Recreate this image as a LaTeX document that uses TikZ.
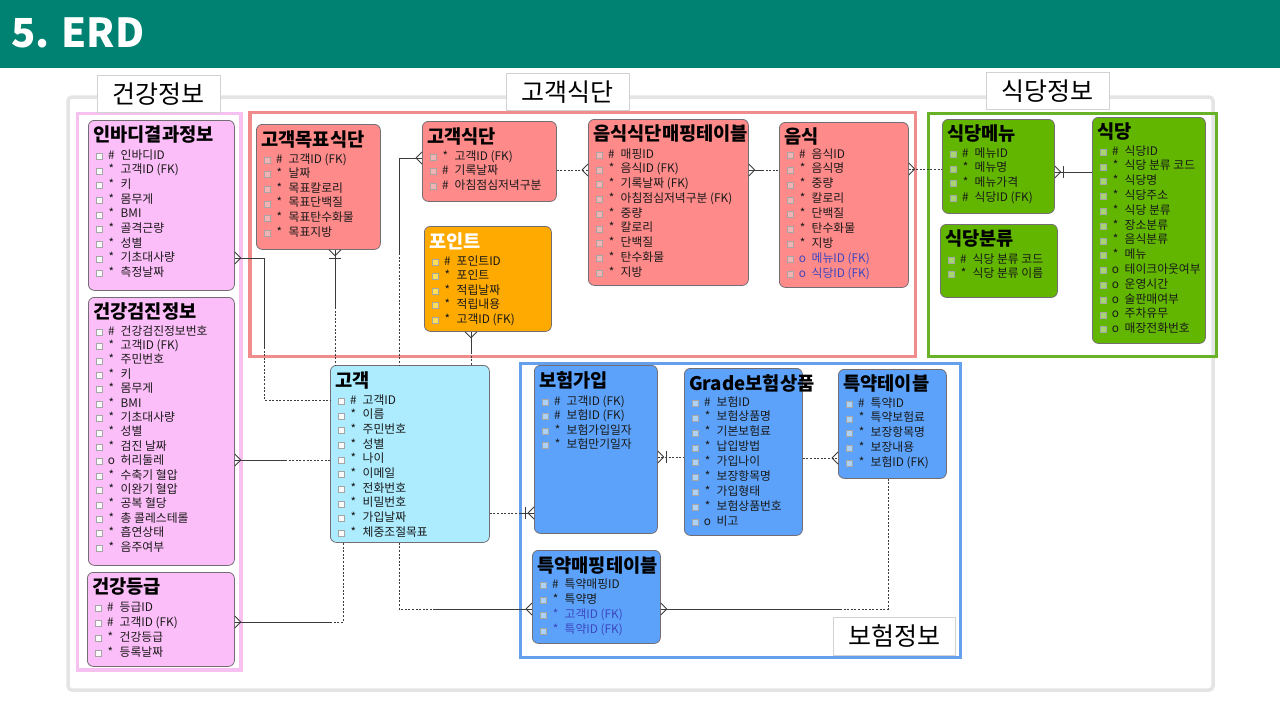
\documentclass[tikz,border=0pt]{standalone}
\usepackage{fontspec}
\setmainfont{Noto Sans CJK KR}
\usetikzlibrary{calc}

\definecolor{hdrteal}{RGB}{0,130,115}
\definecolor{pinkF}{RGB}{252,190,248}
\definecolor{salF}{RGB}{255,138,138}
\definecolor{oraF}{RGB}{255,170,0}
\definecolor{grnF}{RGB}{98,182,0}
\definecolor{cyaF}{RGB}{172,236,254}
\definecolor{bluF}{RGB}{92,162,250}
\definecolor{pinkG}{RGB}{246,192,240}
\definecolor{salG}{RGB}{240,140,140}
\definecolor{grnG}{RGB}{104,178,40}
\definecolor{bluG}{RGB}{100,160,235}
\definecolor{frameG}{RGB}{228,228,228}
\definecolor{entB}{RGB}{115,110,115}
\definecolor{fkblue}{RGB}{60,70,190}
\definecolor{lineC}{RGB}{60,60,60}
\definecolor{sqW}{RGB}{250,250,250}
\definecolor{sqS}{RGB}{245,178,178}
\definecolor{sqO}{RGB}{255,222,90}
\definecolor{sqG}{RGB}{165,215,110}
\definecolor{sqB}{RGB}{172,210,250}

\tikzset{
  ent/.style={draw=entB, line width=0.8pt, rounded corners=6pt, anchor=north west, inner sep=0pt},
  ttl/.style={anchor=west, inner sep=0pt, font=\fontsize{18.7}{21}\selectfont\bfseries},
  row/.style={anchor=west, inner sep=0pt, text height=8.5pt, text depth=2.5pt, font=\fontsize{11.8}{13}\selectfont, text=black!90},
  sym/.style={anchor=center, inner sep=0pt, text height=8.5pt, text depth=2.5pt, font=\fontsize{11.8}{13}\selectfont, text=black!90},
  sqbox/.style={draw=gray!70, line width=0.4pt, minimum size=6pt, inner sep=0pt},
  grp/.style={line width=3.5pt},
  tag/.style={draw=gray!35, fill=white, line width=0.8pt, font=\fontsize{25}{27}\selectfont, inner sep=0pt, anchor=north west},
  rel/.style={draw=lineC, line width=0.8pt},
  opt/.style={rel, dash pattern=on 2pt off 1.6pt},
}

% row spacing and offset of the first row below the box top
\def\rsp{14.7}
\def\rfirst{36}

% entity box: name, x, y, width, height, fill, square fill, title, rows (symbol/text)
\newcommand\entity[9]{%
  \node[ent, fill=#6, minimum width=#4pt, minimum height=#5pt] (#1) at (#2,#3) {};
  \node[ttl] (#1-t) at (#2+5,#3+15) {#8};
  \foreach \rs/\rt [count=\i from 0] in {#9}{%
    \pgfmathsetmacro\yy{#3+\rfirst+\i*\rsp}
    \node[sqbox, fill=#7] (#1-q\i) at (#2+11,\yy) {};
    \node[sym] (#1-s\i) at (#2+23.5,\yy) {\rs};
    \node[row] (#1-r\i) at (#2+32.5,\yy) {\rt};
  }%
}

% crow's foot (many) at an edge point, direction pointing away from the entity
\newcommand\crowfoot[3]{%
  \draw[rel] ($(#1)+({6*(#2)},{6*(#3)})$) -- ($(#1)+({-6*(#3)},{6*(#2)})$)
             ($(#1)+({6*(#2)},{6*(#3)})$) -- ($(#1)+({6*(#3)},{-6*(#2)})$);
}
% bar (one) next to a crow's foot
\newcommand\onebar[3]{%
  \draw[rel] ($(#1)+({9*(#2)-6*(#3)},{9*(#3)+6*(#2)})$) -- ($(#1)+({9*(#2)+6*(#3)},{9*(#3)-6*(#2)})$);
}

\begin{document}
\begin{tikzpicture}[x=1pt,y=-1pt]
\useasboundingbox (0,0) rectangle (1280,720);
\fill[white] (0,0) rectangle (1280,720);

% header bar
\fill[hdrteal] (0,0) rectangle (1280,68);
\node[anchor=base west, inner sep=0pt, text=white, font=\fontsize{40}{40}\selectfont\bfseries] (title) at (11,47) {5. ERD};

% outer frame
\draw[frameG, line width=3.5pt, rounded corners=4pt] (68,97) rectangle (1213,690);

% subject area frames
\draw[grp, pinkG] (77.5,113.5) rectangle (241,670);
\draw[grp, salG] (250,112.5) rectangle (915.5,356.5);
\draw[grp, grnG] (928.5,113.5) rectangle (1216.5,356.5);
\draw[grp, bluG] (520.5,363.5) rectangle (960.5,657.5);

% subject area labels
\node[tag, minimum width=123pt, minimum height=37pt] (lblHealth) at (97,75) {건강정보};
\node[tag, minimum width=123pt, minimum height=37pt] (lblDiet) at (506,73) {고객식단};
\node[tag, minimum width=123pt, minimum height=37pt] (lblRest) at (986,72) {식당정보};
\node[tag, minimum width=122pt, minimum height=38pt] (lblIns) at (833,617) {보험정보};

% ---------- health ----------
\entity{inbody}{88}{120}{146}{170}{pinkF}{sqW}{인바디결과정보}{%
  \#/인바디ID, */{고객ID (FK)}, */키, */몸무게, */BMI, */골격근량, */성별, */기초대사량, */측정날짜}

\def\rsp{14.4}\def\rfirst{35}
\entity{checkup}{88}{297}{146}{268}{pinkF}{sqW}{건강검진정보}{%
  \#/건강검진정보번호, */{고객ID (FK)}, */주민번호, */키, */몸무게, */BMI, */기초대사량, */성별,
  */{검진 날짜}, o/허리둘레, */{수축기 혈압}, */{이완기 혈압}, */{공복 혈당}, */{총 콜레스테롤}, */흡연상태, */음주여부}

\def\rsp{15}\def\rfirst{36}
\entity{grade}{87}{572}{147}{94}{pinkF}{sqW}{건강등급}{%
  \#/등급ID, \#/{고객ID (FK)}, */건강등급, */등록날짜}

% ---------- diet ----------
\def\rsp{14.6}\def\rfirst{36}
\entity{goal}{256}{124}{124}{125}{salF}{sqS}{고객목표식단}{%
  \#/{고객ID (FK)}, */날짜, */목표칼로리, */목표단백질, */목표탄수화물, */목표지방}

\def\rsp{14.5}\def\rfirst{36}
\entity{diet}{422}{121}{134}{80}{salF}{sqS}{고객식단}{%
  */{고객ID (FK)}, \#/기록날짜, \#/아침점심저녁구분}

\entity{point}{424}{226}{127}{105}{oraF}{sqO}{\textcolor{white}{포인트}}{%
  \#/포인트ID, */포인트, */적립날짜, */적립내용, */{고객ID (FK)}}

\def\rsp{14.75}\def\rfirst{36}
\entity{mapping}{588}{119}{160}{166}{salF}{sqS}{음식식단매핑테이블}{%
  \#/매핑ID, */{음식ID (FK)}, */{기록날짜 (FK)}, */{아침점심저녁구분 (FK)}, */중량, */칼로리, */단백질, */탄수화물, */지방}

\def\rsp{14.9}\def\rfirst{33}
\entity{food}{779}{122}{129}{165}{salF}{sqS}{음식}{%
  \#/음식ID, */음식명, */중량, */칼로리, */단백질, */탄수화물, */지방,
  {\color{fkblue}o}/{\color{fkblue}메뉴ID (FK)}, {\color{fkblue}o}/{\color{fkblue}식당ID (FK)}}

% ---------- restaurant ----------
\def\rsp{14.7}\def\rfirst{35}
\entity{menu}{942}{119}{112}{94}{grnF}{sqG}{식당메뉴}{%
  \#/메뉴ID, */메뉴명, */메뉴가격, \#/{식당ID (FK)}}

\def\rsp{14}\def\rfirst{36}
\entity{category}{940}{224}{117}{73}{grnF}{sqG}{식당분류}{%
  \#/{식당 분류 코드}, */{식당 분류 이름}}

\def\rsp{14.8}\def\rfirst{35}
\entity{rest}{1092}{117}{113}{226}{grnF}{sqG}{식당}{%
  \#/식당ID, */{식당 분류 코드}, */식당명, */식당주소, */{식당 분류}, */장소분류, */음식분류, */메뉴,
  o/테이크아웃여부, o/운영시간, o/술판매여부, o/주차유무, o/매장전화번호}

% ---------- customer ----------
\def\rsp{14.7}\def\rfirst{36}
\entity{cust}{330}{365}{159}{177}{cyaF}{sqW}{고객}{%
  \#/고객ID, */이름, */주민번호, */성별, */나이, */이메일, */전화번호, */비밀번호, */가입날짜, */체중조절목표}

% ---------- insurance ----------
\def\rsp{14.5}\def\rfirst{37}
\entity{join}{534}{365}{123}{168}{bluF}{sqB}{보험가입}{%
  \#/{고객ID (FK)}, \#/{보험ID (FK)}, */보험가입일자, */보험만기일자}

\def\rsp{14.9}\def\rfirst{35}
\entity{product}{684}{368}{118}{167}{bluF}{sqB}{Grade보험상품}{%
  \#/보험ID, */보험상품명, */기본보험료, */납입방법, */가입나이, */보장항목명, */가입형태, */보험상품번호, o/비고}

\def\rsp{14.75}\def\rfirst{35}
\entity{rider}{838}{369}{108}{109}{bluF}{sqB}{특약테이블}{%
  \#/특약ID, */특약보험료, */보장항목명, */보장내용, */{보험ID (FK)}}

\def\rsp{15.3}\def\rfirst{35}
\entity{ridermap}{532}{550}{128}{93}{bluF}{sqB}{특약매핑테이블}{%
  \#/특약매핑ID, */특약명, {\color{fkblue}*}/{\color{fkblue}고객ID (FK)}, {\color{fkblue}*}/{\color{fkblue}특약ID (FK)}}

% ---------- relationships ----------
% inbody - cust
\coordinate (k1a) at (264,258);
\coordinate (k1b) at (264,347);
\coordinate (k1c) at (264,400);
\coordinate (e1) at (inbody.east |- k1a);
\draw[rel] (e1) -- (k1a) -- (k1b);
\draw[opt] (k1b) -- (k1c) -- (cust.west |- k1c);
\crowfoot{e1}{1}{0}

% goal - cust
\coordinate (k2) at (335,307);
\coordinate (e2) at (goal.south -| k2);
\draw[rel] (e2) -- (k2);
\draw[opt] (k2) -- (cust.north -| k2);
\crowfoot{e2}{0}{1}\onebar{e2}{0}{1}

% diet - cust
\coordinate (k3a) at (399,158);
\coordinate (k3b) at (399,253);
\coordinate (e3) at (diet.west |- k3a);
\draw[rel] (e3) -- (k3a) -- (k3b);
\draw[opt] (k3b) -- (cust.north -| k3b);
\crowfoot{e3}{-1}{0}

% diet - mapping
\coordinate (e4a) at (diet.east |- 0,170);
\coordinate (e4b) at (mapping.west |- 0,170);
\draw[opt] (e4a) -- (e4b);
\crowfoot{e4b}{-1}{0}

% mapping - food
\coordinate (e5) at (mapping.east |- 0,170);
\coordinate (k5) at (762,170);
\draw[rel] (e5) -- (k5);
\draw[opt] (k5) -- (food.west |- k5);
\crowfoot{e5}{1}{0}

% food - menu
\coordinate (e6) at (food.east |- 0,169);
\draw[opt] (e6) -- (menu.west |- e6);
\crowfoot{e6}{1}{0}

% menu - rest
\coordinate (e7) at (menu.east |- 0,172);
\draw[rel] (e7) -- (rest.west |- e7);
\crowfoot{e7}{1}{0}\onebar{e7}{1}{0}

% point - cust
\coordinate (k8) at (471,352);
\coordinate (e8) at (point.south -| k8);
\draw[rel] (e8) -- (k8);
\draw[opt] (k8) -- (cust.north -| k8);
\crowfoot{e8}{0}{1}

% checkup - cust
\coordinate (k9) at (285,460);
\coordinate (e9) at (checkup.east |- k9);
\draw[rel] (e9) -- (k9);
\draw[opt] (k9) -- (cust.west |- k9);
\crowfoot{e9}{1}{0}

% grade - cust
\coordinate (k10a) at (330,622);
\coordinate (k10b) at (343,622);
\coordinate (e10) at (grade.east |- k10a);
\draw[rel] (e10) -- (k10a);
\draw[opt] (k10a) -- (k10b) -- (cust.south -| k10b);
\crowfoot{e10}{1}{0}

% cust - join
\coordinate (k11) at (520,513);
\coordinate (e11) at (join.west |- k11);
\draw[opt] (cust.east |- k11) -- (k11);
\draw[rel] (k11) -- (e11);
\crowfoot{e11}{-1}{0}\onebar{e11}{-1}{0}

% cust - ridermap
\coordinate (k12a) at (399,609);
\coordinate (k12b) at (433,609);
\coordinate (e12) at (ridermap.west |- k12a);
\draw[opt] (cust.south -| k12a) -- (k12a) -- (k12b);
\draw[rel] (k12b) -- (e12);
\crowfoot{e12}{-1}{0}

% ridermap - rider
\coordinate (k13a) at (840,609);
\coordinate (k13b) at (888,609);
\coordinate (e13) at (ridermap.east |- k13a);
\draw[rel] (e13) -- (k13a);
\draw[opt] (k13a) -- (k13b) -- (rider.south -| k13b);
\crowfoot{e13}{1}{0}

% join - product
\coordinate (e14) at (join.east |- 0,457);
\draw[opt] (e14) -- (product.west |- e14);
\crowfoot{e14}{1}{0}\onebar{e14}{1}{0}

% product - rider
\coordinate (e15) at (rider.west |- 0,458);
\draw[opt] (product.east |- e15) -- (e15);
\crowfoot{e15}{-1}{0}

\end{tikzpicture}
\end{document}
